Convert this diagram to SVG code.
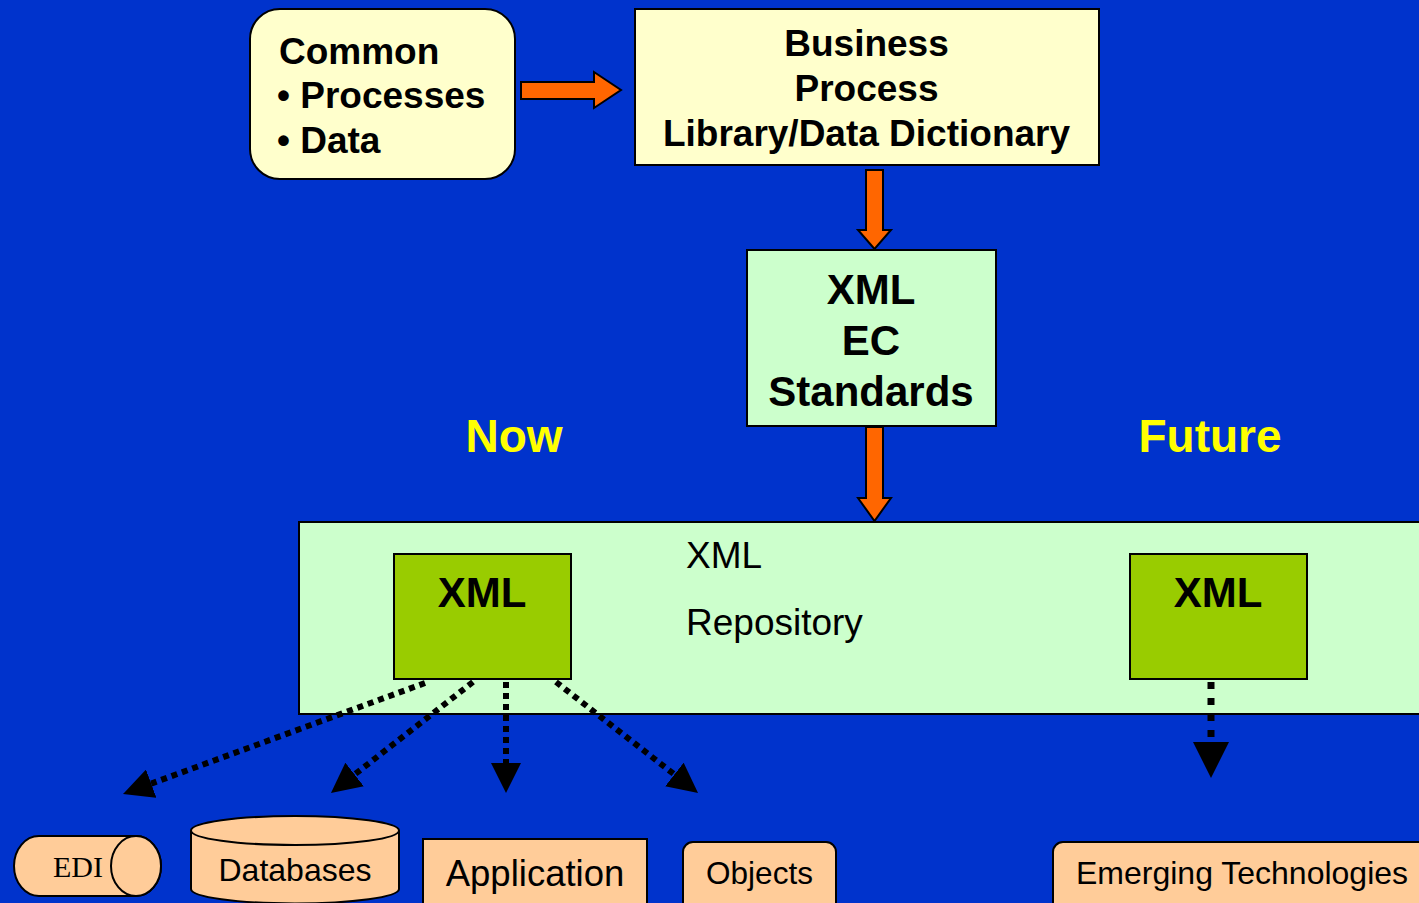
<svg xmlns="http://www.w3.org/2000/svg" width="1419" height="903" viewBox="0 0 1419 903">
<defs>
<style>
.b{font-family:"Liberation Sans",Arial,sans-serif;font-weight:bold;fill:#000}
.r{font-family:"Liberation Sans",Arial,sans-serif;fill:#000}
.box{stroke:#000;stroke-width:2}
.orange{fill:#FF6600;stroke:#000;stroke-width:2;stroke-linejoin:miter}
.dot{stroke:#000;stroke-width:6;stroke-dasharray:6 5;fill:none}
.dot2{stroke:#000;stroke-width:7;stroke-dasharray:7 9;fill:none}
.now{font-family:"Liberation Sans",Arial,sans-serif;font-weight:bold;fill:#FFFF00;font-size:46px}
</style>
<marker id="ah" markerUnits="userSpaceOnUse" markerWidth="30" markerHeight="30" refX="0" refY="15" orient="auto" viewBox="0 0 30 30">
<path d="M0,0 L30,15 L0,30 z" fill="#000"/>
</marker>
<marker id="ah2" markerUnits="userSpaceOnUse" markerWidth="36" markerHeight="36" refX="0" refY="18" orient="auto" viewBox="0 0 36 36">
<path d="M0,0 L36,18 L0,36 z" fill="#000"/>
</marker>
</defs>
<rect x="0" y="0" width="1419" height="903" fill="#0033CC"/>

<g id="common">
<rect class="box" x="250" y="9" width="265" height="170" rx="30" ry="30" fill="#FFFFCC"/>
<text class="b" font-size="37" x="279" y="64">Common</text>
<text class="b" font-size="37" x="277" y="108">• Processes</text>
<text class="b" font-size="37" x="277" y="153">• Data</text>
</g>

<g id="business">
<rect class="box" x="635" y="9" width="464" height="156" fill="#FFFFCC"/>
<text class="b" font-size="37" x="866.5" y="56" text-anchor="middle">Business</text>
<text class="b" font-size="37" x="866.5" y="101" text-anchor="middle">Process</text>
<text class="b" font-size="37" x="866.5" y="146" text-anchor="middle">Library/Data Dictionary</text>
</g>

<g id="xmlec">
<rect class="box" x="747" y="250" width="249" height="176" fill="#CCFFCC"/>
<text class="b" font-size="42" x="871" y="304" text-anchor="middle">XML</text>
<text class="b" font-size="42" x="871" y="355" text-anchor="middle">EC</text>
<text class="b" font-size="42" x="871" y="406" text-anchor="middle">Standards</text>
</g>

<g id="labels">
<text class="now" x="514" y="452" text-anchor="middle">Now</text>
<text class="now" x="1210" y="452" text-anchor="middle">Future</text>
</g>

<g id="repository">
<rect class="box" x="299" y="522" width="1130" height="192" fill="#CCFFCC"/>
<text class="r" font-size="37" x="686" y="568">XML</text>
<text class="r" font-size="37" x="686" y="635">Repository</text>
</g>

<g id="xml-now">
<rect class="box" x="394" y="554" width="177" height="125" fill="#99CC00"/>
<text class="b" font-size="42" x="482" y="607" text-anchor="middle">XML</text>
</g>

<g id="xml-future">
<rect class="box" x="1130" y="554" width="177" height="125" fill="#99CC00"/>
<text class="b" font-size="42" x="1218" y="607" text-anchor="middle">XML</text>
</g>

<g id="connectors">
<polygon class="orange" points="521,82 594,82 594,72 621,90 594,108 594,99 521,99"/>
<polygon class="orange" points="866,170 883,170 883,230 891,230 874.5,249 858,230 866,230"/>
<polygon class="orange" points="866,427 883,427 883,498 891,498 874.5,521 858,498 866,498"/>
<line class="dot" x1="425" y1="683" x2="151.2" y2="783.6" marker-end="url(#ah)"/>
<line class="dot" x1="473" y1="682" x2="354.6" y2="774.5" marker-end="url(#ah)"/>
<line class="dot" x1="506" y1="682" x2="506" y2="763" marker-end="url(#ah)"/>
<line class="dot" x1="556" y1="682" x2="674.4" y2="774.5" marker-end="url(#ah)"/>
<line class="dot2" x1="1211" y1="682" x2="1211" y2="742" marker-end="url(#ah2)"/>
</g>

<g id="edi">
<path class="box" d="M39,836 L136,836 A25,30 0 0 1 136,896 L39,896 A25,30 0 0 1 39,836 z" fill="#FFCC99"/>
<ellipse class="box" cx="136" cy="866" rx="25" ry="30" fill="#FFCC99"/>
<text font-family="'Liberation Serif','Times New Roman',serif" font-size="30" x="78" y="877" text-anchor="middle" fill="#000">EDI</text>
</g>

<g id="databases">
<path class="box" d="M191,830.5 L191,889 A104,14.5 0 0 0 399,889 L399,830.5" fill="#FFCC99"/>
<ellipse class="box" cx="295" cy="830.5" rx="104" ry="14.5" fill="#FFCC99"/>
<text class="r" font-size="32" x="295" y="881" text-anchor="middle">Databases</text>
</g>

<g id="application">
<rect class="box" x="423" y="839" width="224" height="80" fill="#FFCC99"/>
<text class="r" font-size="36.5" x="535" y="886" text-anchor="middle">Application</text>
</g>

<g id="objects">
<rect class="box" x="683" y="842" width="153" height="80" rx="10" ry="10" fill="#FFCC99"/>
<text class="r" font-size="31.5" x="759.5" y="884" text-anchor="middle">Objects</text>
</g>

<g id="emerging">
<rect class="box" x="1053" y="842" width="380" height="80" rx="10" ry="10" fill="#FFCC99"/>
<text class="r" font-size="32" x="1076" y="884">Emerging Technologies</text>
</g>
</svg>
